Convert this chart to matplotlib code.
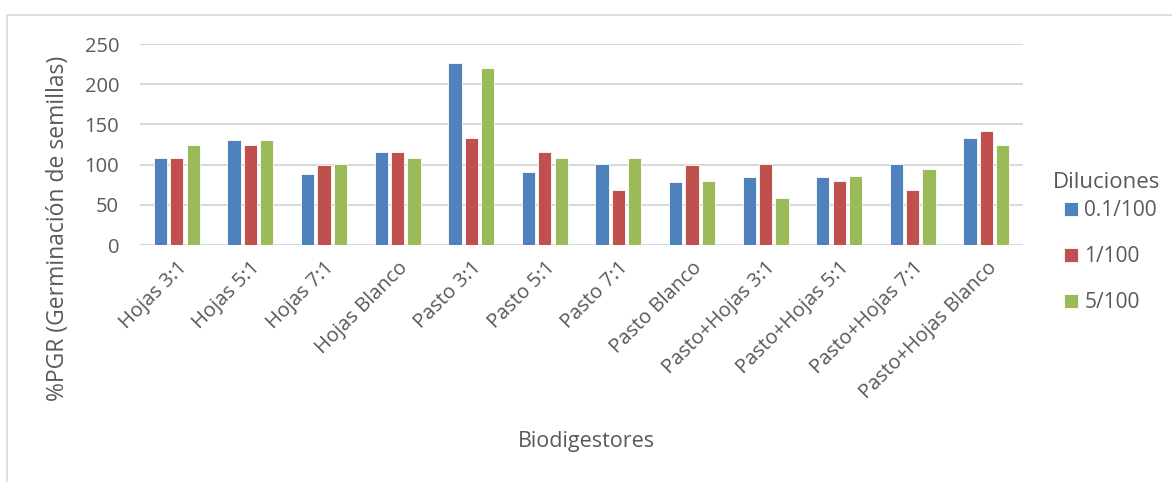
import numpy as np
import matplotlib.pyplot as plt
from matplotlib.patches import Rectangle

# Data
categories = ['Hojas 3:1', 'Hojas 5:1', 'Hojas 7:1', 'Hojas Blanco',
              'Pasto 3:1', 'Pasto 5:1', 'Pasto 7:1', 'Pasto Blanco',
              'Pasto+Hojas 3:1', 'Pasto+Hojas 5:1', 'Pasto+Hojas 7:1', 'Pasto+Hojas Blanco']
dil_01 = [108, 130, 88, 116, 226, 91, 101, 78, 85, 85, 101, 133]
dil_1 = [108, 125, 100, 116, 133, 116, 69, 100, 101, 79, 69, 142]
dil_5 = [125, 130, 101, 108, 220, 108, 108, 79, 59, 86, 95, 125]
series_names = ['0.1/100', '1/100', '5/100']
colors = ['#4F81BD', '#C0504D', '#9BBB59']

plt.rcParams['font.family'] = ['Open Sans', 'DejaVu Sans']
text_color = '#595959'

fig = plt.figure(figsize=(11.72, 4.82), dpi=100)
ax = fig.add_axes([0.1195, 0.4917, 0.7535, 0.417])

# outer chart border
fig.patches.append(Rectangle((0.006, -0.01), 1.0, 0.979, transform=fig.transFigure,
                             fill=False, edgecolor='#d9d9d9', linewidth=1.2))

x = np.arange(len(categories))
width = 0.18
step = 0.222
for i, (vals, name) in enumerate(zip([dil_01, dil_1, dil_5], series_names)):
    ax.bar(x + (i - 1) * step, vals, width, color=colors[i], label=name,
           edgecolor='white', linewidth=0.6, zorder=3)

ax.set_xlim(-0.5, len(categories) - 0.5)
ax.set_ylim(0, 250)
ax.set_yticks(range(0, 251, 50))
ax.yaxis.grid(True, color='#d9d9d9', linewidth=1.5, zorder=0)
ax.set_axisbelow(True)
for s in ax.spines.values():
    s.set_visible(False)
ax.tick_params(axis='both', length=0, labelsize=14.5, labelcolor=text_color)
ax.tick_params(axis='y', pad=15)
ax.set_xticks(x)
ax.set_xticklabels(categories, rotation=45, ha='right', rotation_mode='anchor')
ax.tick_params(axis='x', pad=9)

fig.text(0.0495, 0.527, '%PGR (Germinación de semillas)', fontsize=16.5, color=text_color,
         rotation=90, ha='center', va='center')
fig.text(0.5, 0.083, 'Biodigestores', fontsize=15.5, color=text_color, ha='center', va='center')

# legend title drawn separately so the entries keep their own left edge
fig.text(1053 / 1172, 1 - 182 / 482, 'Diluciones', fontsize=16, color=text_color,
         ha='left', va='center')
leg = fig.legend(loc='upper left', bbox_to_anchor=(1064 / 1172, 1 - 200 / 482),
                 frameon=False, fontsize=15, labelspacing=1.2, borderpad=0,
                 borderaxespad=0, handlelength=0.67, handleheight=0.67, handletextpad=0.3)
for t in leg.get_texts():
    t.set_color(text_color)

fig.savefig('out.png', dpi=100)
